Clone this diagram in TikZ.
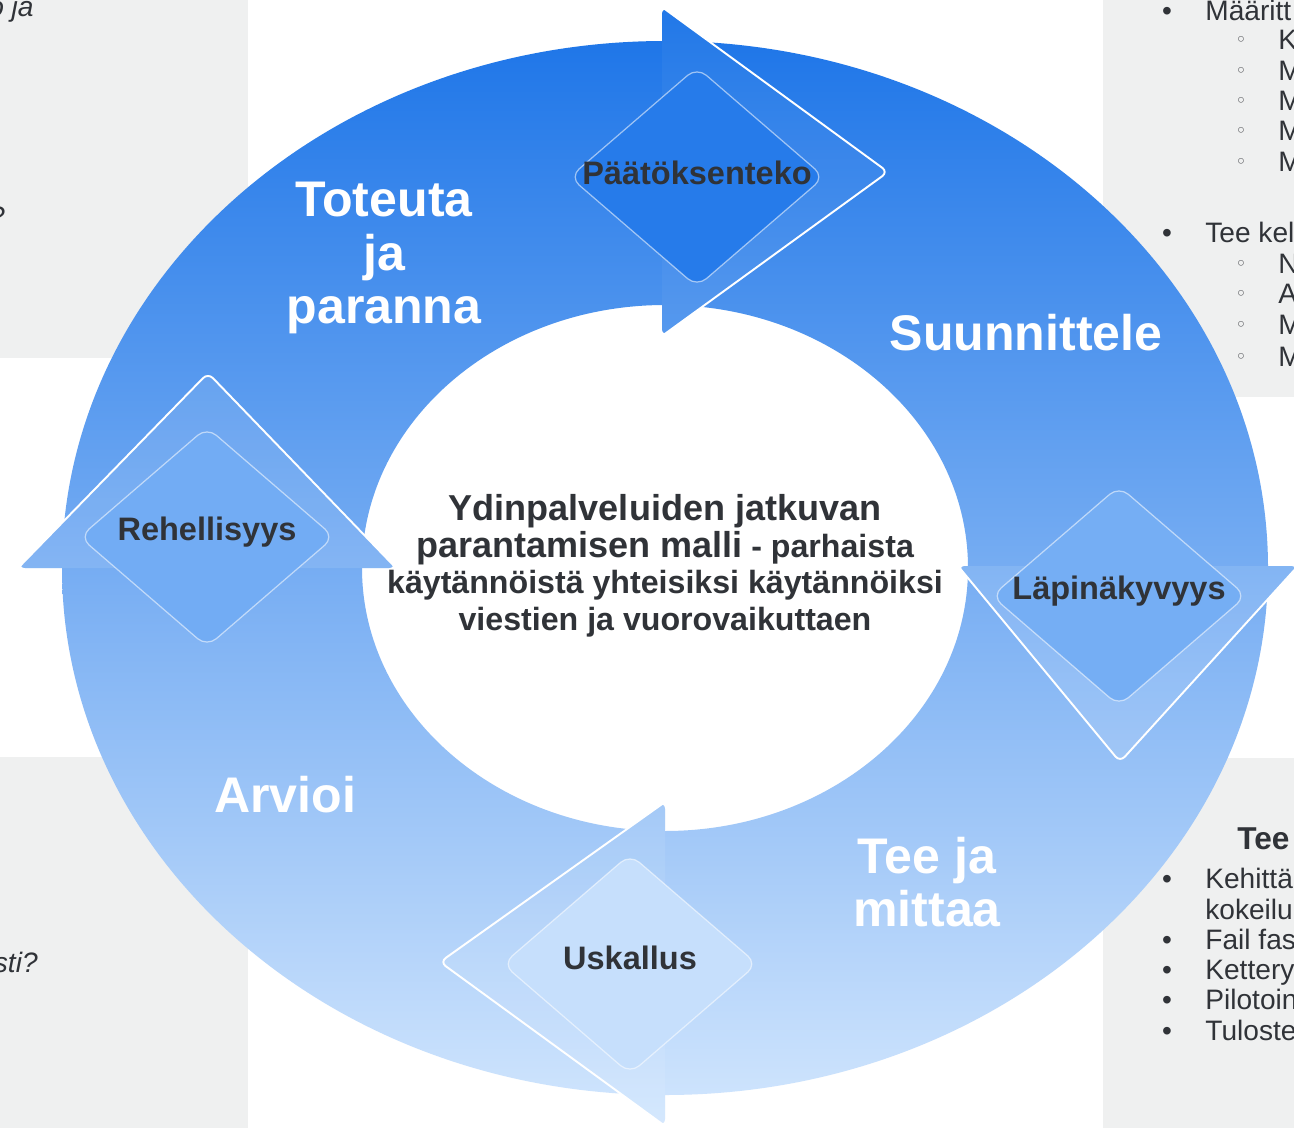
\documentclass[tikz,border=0pt]{standalone}
\usepackage{fontspec}
\setmainfont{Liberation Sans}
\newfontfamily\symfont{DejaVu Sans}
\usepackage{tikz}
\usetikzlibrary{positioning,shapes.geometric}
\definecolor{ringtop}{HTML}{1570E7}
\definecolor{ringmid}{HTML}{62A3F3}
\definecolor{ringbot}{HTML}{D8EAFE}
\definecolor{panel}{HTML}{EFF0F0}
\definecolor{ink}{HTML}{303338}

\begin{document}
\begin{tikzpicture}[x=0.02cm, y=-0.02cm,
    sheet/.style={fill=panel},
    phase/.style={text=white, font=\fontsize{28.5}{30.6}\selectfont\bfseries, align=center},
    gem/.style={diamond, draw=white, draw opacity=0.55, line width=0.7pt, rounded corners=7pt, minimum width=5.1cm, minimum height=4.4cm, inner sep=0pt},
    gemtext/.style={text=ink, font=\fontsize{18.5}{20}\selectfont\bfseries},
    core/.style={text=ink, font=\fontsize{18.3}{20.8}\selectfont\bfseries, align=center},
    tipline/.style={draw=white, line width=1.1pt, line join=round},
    item/.style={anchor=base west, text=ink, font=\fontsize{16}{19}\selectfont, inner sep=0pt},
    bul/.style={anchor=base, text=ink, font=\fontsize{16}{19}\selectfont, inner sep=0pt},
    subbul/.style={anchor=base, text=ink!80, font=\symfont\fontsize{11}{19}\selectfont, inner sep=0pt},
    ringfill/.style={top color=ringtop, middle color=ringmid, bottom color=ringbot}
]
    \useasboundingbox (0,0) rectangle (1294,1128);
    \clip (0,0) rectangle (1294,1128);
    \fill[white] (0,0) rectangle (1294,1128);

    % side panels
    \fill[sheet] (0,0) rectangle (248,358);
    \fill[sheet] (0,757) rectangle (248,1128);
    \fill[sheet] (1103,0) rectangle (1294,397);
    \fill[sheet] (1103,758) rectangle (1294,1128);

    \node[item, anchor=base east, font=\fontsize{16}{19}\selectfont\itshape] (lt1) at (34,17) {o ja};
    \node[item, anchor=base east, font=\fontsize{16}{19}\selectfont\itshape] (lt2) at (5,227) {?};
    \node[item, anchor=base east, font=\fontsize{16}{19}\selectfont\itshape] (lb1) at (38,972) {sti?};

    \node[item] (rt1) at (1205,21) {Määritt};
    \node[item] (rt2) at (1278,50) {K};
    \node[item] (rt3) at (1278,81) {M};
    \node[item] (rt4) at (1278,111) {M};
    \node[item] (rt5) at (1278,141) {M};
    \node[item] (rt6) at (1278,172) {M};
    \node[item] (rt7) at (1205,243) {Tee kel};
    \node[item] (rt8) at (1278,274) {N};
    \node[item] (rt9) at (1278,304) {A};
    \node[item] (rt10) at (1278,335) {M};
    \node[item] (rt11) at (1278,366) {M};
    \node[bul] at (1167,21) {•};
    \node[bul] at (1167,243) {•};
    \node[subbul] at (1241,47) {◦};
    \node[subbul] at (1241,78) {◦};
    \node[subbul] at (1241,108) {◦};
    \node[subbul] at (1241,138) {◦};
    \node[subbul] at (1241,169) {◦};
    \node[subbul] at (1241,271) {◦};
    \node[subbul] at (1241,301) {◦};
    \node[subbul] at (1241,332) {◦};
    \node[subbul] at (1241,363) {◦};

    \node[item, font=\fontsize{18}{21}\selectfont\bfseries] (rbh) at (1237,849) {Tee};
    \node[item] (rb1) at (1205,888) {Kehittä};
    \node[item] (rb2) at (1205,919) {kokeilu};
    \node[item] (rb3) at (1205,949) {Fail fas};
    \node[item] (rb4) at (1205,979) {Kettery};
    \node[item] (rb5) at (1205,1009) {Pilotoin};
    \node[item] (rb6) at (1205,1040) {Tuloste};
    \node[bul] at (1167,888) {•};
    \node[bul] at (1167,949) {•};
    \node[bul] at (1167,979) {•};
    \node[bul] at (1167,1009) {•};
    \node[bul] at (1167,1040) {•};

    % ring
    \begin{scope}[even odd rule]
        \clip (665,568) ellipse [x radius=603, y radius=527]
              (665,568) ellipse [x radius=303, y radius=263];
        \shade[ringfill] (0,-20) rectangle (1294,1160);
    \end{scope}

    \node[core] (model) at (665,566) {{\fontsize{20.5}{20.8}\selectfont Ydinpalveluiden jatkuvan}\\
        {\fontsize{20.5}{20.8}\selectfont parantamisen malli} - parhaista\\
        käytännöistä yhteisiksi käytännöiksi\\
        viestien ja vuorovaikuttaen};

    % arrow heads
    \begin{scope}[rounded corners=4pt]
        \clip (662,7) -- (888,172) -- (662,336) -- cycle;
        \shade[ringfill] (0,-20) rectangle (1294,1160);
        \fill[white, opacity=0.04] (0,0) rectangle (1294,1128);
    \end{scope}
    \draw[tipline, rounded corners=4pt] (662,7) -- (888,172) -- (662,336);

    \begin{scope}[rounded corners=4pt]
        \clip (958,566) -- (1120,762) -- (1298,566) -- cycle;
        \shade[ringfill] (0,-20) rectangle (1294,1160);
        \fill[white, opacity=0.1] (0,0) rectangle (1294,1128);
    \end{scope}
    \draw[tipline, rounded corners=4pt] (958,566) -- (1120,762) -- (1298,566);

    \begin{scope}[rounded corners=4pt]
        \clip (665,802) -- (440,962) -- (665,1126) -- cycle;
        \shade[ringfill] (0,-20) rectangle (1294,1160);
        \fill[white, opacity=0.08] (0,0) rectangle (1294,1128);
    \end{scope}
    \draw[tipline, rounded corners=4pt] (665,802) -- (440,962) -- (665,1126);

    \begin{scope}[rounded corners=4pt]
        \clip (18,568) -- (208,373) -- (396,568) -- cycle;
        \shade[ringfill] (0,-20) rectangle (1294,1160);
        \fill[white, opacity=0.1] (0,0) rectangle (1294,1128);
    \end{scope}
    \draw[tipline, rounded corners=4pt] (18,568) -- (208,373) -- (396,568);

    % values
    \node[gem, fill=ringtop!78!ringmid] (decide) at (697,177) {};
    \node[gem, fill=ringmid!90!white] (honest) at (207,537) {};
    \node[gem, fill=ringmid!88!white] (open) at (1119,596) {};
    \node[gem, fill=ringbot!85!ringmid] (courage) at (630,964) {};

    \node[gemtext] (decidetxt) at (697,173) {Päätöksenteko};
    \node[gemtext] (honesttxt) at (207,532) {Rehellisyys};
    \node[gemtext] (opentxt) at (1119,591) {Läpinäkyvyys};
    \node[gemtext] (couragetxt) at (630,958) {Uskallus};

    % phases
    \node[phase] (act) at (384,258) {Toteuta\\ja\\paranna};
    \node[phase] (plan) at (1026,333) {Suunnittele};
    \node[phase] (check) at (285,795) {Arvioi};
    \node[phase] (do) at (927,882) {Tee ja\\mittaa};
\end{tikzpicture}
\end{document}
